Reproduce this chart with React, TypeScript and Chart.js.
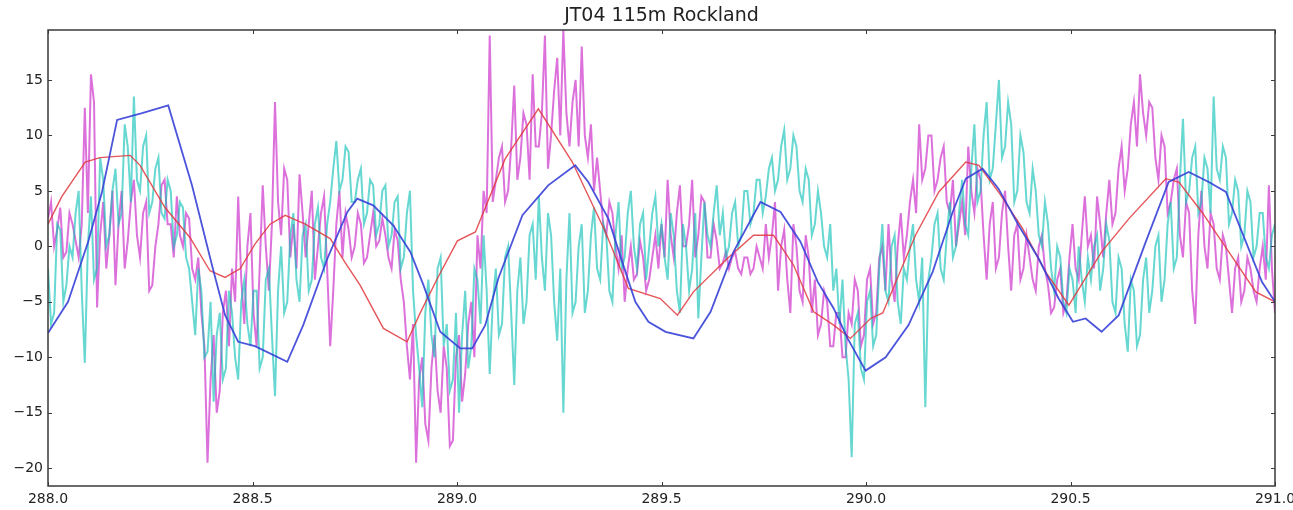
import React, { useEffect, useRef } from "react";
import { Chart, registerables } from "chart.js";

Chart.register(...registerables);

const TITLE = "JT04 115m Rockland";
const X_MIN = 288.0;
const X_MAX = 291.0;
const Y_MIN = -21.6;
const Y_MAX = 19.5;
const X_TICKS = [288.0, 288.5, 289.0, 289.5, 290.0, 290.5, 291.0];
const Y_TICKS = [-20, -15, -10, -5, 0, 5, 10, 15];

// noisy series: sampled every SAMPLE_STEP starting at SAMPLE_START
const SAMPLE_START = 288.0;
const SAMPLE_STEP = 0.0075;

const MAGENTA = [
  2.5, 4, 0, 1.5, 3.5, -1, -0.5, 3, 2, 0.5, -1, 2, 12.5, 3, 15.5, 13, -5.5, 1, 4, -2,
  1, 5, -3.5, 2, 5, -2, 0.5, 4, 6, 1, -1, 3, 4, -4, -3.5, 0, 2, 5.5, 6, 2,
  2, -1, 4.5, 1, 0, 3, 2.5, -2, -3, -1, -6, -9, -19.5, -12, -8, -15, -13, -6, -4, -9,
  -2, -5, 4.5, -3, -7, 0, 3, -6, -9, -2, 5.5, 0, -4, 2, 13, 4, 1, 7, 6, -1,
  2, -2, 6.5, 3, -1, 2, 5, -3, 0, 3, 4.5, -2, -9, -4, 2, 5, -1, 3, 1.5, -1,
  0, 3, 2, -1.5, -1, 1, 3, 0, 0.5, 2.5, 1, -1, -2, 1.5, 0.5, -3, -5, -9, -12, -7,
  -19.5, -12, -10, -16, -17.5, -11, -8, -13, -15, -9, -11, -18, -17.5, -10, -8, -14, -11.5, -7, -5, -10,
  1, -2, 5, 3, 19, 4, 6, 8, 9, 4, 5, 9, 14.5, 6, 8, 12, 11, 6, 15.5, 9,
  9, 12, 19, 7, 10, 14, 17, 10, 19.5, 12, 9, 13, 15, 9, 18, 10, 8, 11, 5, 8,
  5, 2, 1, 4, 3, 0, -2, 1, -5, -2, 0, -3, -2.5, 0.5, -1, -4, -3, -1, 1, -2,
  2, -1, 6, 1, -1, 3, 5.5, 0, 0, 2, 6, -1, 1, 4.5, 4, -1, -1, 2, 0.5, -2,
  -1.5, -0.5, -2, -1, -0.5, -2, -2.5, -1, -1, -2.5, -2, 0, -1, -2, 2, -1, 1, 4, -4, 0,
  1.5, -3, -6, 2, 0, -4, -5, 1, -1, -6, -3, -8, -7, -4, -5, -9, -9, -6, -6, -10,
  -10, -6, -7, -3, -4, -9, -8, -3, -2, -7, -6, -1, 0, -4, 2, -3, -5, 0, 3, -1,
  1, 4, 6, 3, 11, 6, 7, 10, 10, 5, 6, 8, 9, 4, 3, 6, 0, 2, 4, 1,
  9, 5, 3, 7, 6, 1, -3, 2, 4, -2, -1, 3, 5, 0, -4, 1, 2, -3, -2, 1,
  -1, -3, -4, 0, 1, -2, -3.5, -6, -5.5, -3, -2, -6, -5, -1, 2, -2, -3, 1, 4.5, 0,
  1, -2, 4.5, 2, -1, 3, 6, 2, 3, 7, 9, 5, 7, 11, 13, 9, 15.5, 12, 10, 13,
  12.5, 8, 6, 10, 9, 3, 4, 6, 7, 1, -1, 4, 3, -4, -7, 1, 5, 0, -2, 3,
  2, -2, -3, 1, 0, -3, -6, -2, -1, -5, -4, -1, -2, -4, -5, -2, 0, -3, 5.5, -2, -6,
];

const CYAN = [
  -2, -7, -6, 2, 1.5, -5, -3.5, 0, -1, 3, 5, -4, -10.5, 0, 4.5, -3, -2, 8, 6, 0,
  1, 5, 7, 2, 3, 11, 9, 4, 13.5, 6, 5, 9, 10, 3, 4, 7, 8, 3, 2.5, 6,
  5, 0, 1, 4, 3.5, -1, -2, -5, -8, -2, -4, -10, -9.5, -5, -14, -8, -6, -12, -11, -4,
  -6, -10, -12, -5, -3, -7, -9, -4, -4, -11, -10, -3, -2, -8, -13.5, -4, 0, -6, -5, 1,
  3, -3, -5, 1, 2, -4, -3, 2, 3.5, -1, -2, 2, 4, 7, 9.5, 5, 6, 9, 8.5, 4,
  4, 6, 7, 2, 3, 6, 5.5, 1, 2, 5, 5.5, 0, 1, 4, 4.5, -2, -1, 3, 5, -4,
  -8, -11, -14.5, -6, -3, -8, -10, -2, -1, -9, -7, -13, -12, -6, -15, -8, -4, -11, -9, -2,
  -3, -7, 1, -4, -11.5, -5, -2, -8, -7, -1, 0, -6, -12.5, -4, -1, -7, -5, 1, 2, -3,
  4.5, -1, -4, 3, 1, -5, -8.5, -2, -15, -3, 3, -6, -5, 0, 2, -6, -4, 1, 3.5, -2,
  -3, 2, 1, -4, -5, 1, 4, -2, -1, 3, 5, 0, -2, 2, 3, -3, 0, 3, 4.5, 0,
  2, -1, -3, 3, 1, -4, -6, 2, 0, -4, -2, 3, -6.5, -1, 4, 1, 0, 3, 5.5, 1,
  3, -1, 0, 3, 4, 0, 1, 5, 5, 2, 3, 6, 6, 3, 4.5, 7, 8, 5, 6, 9,
  10.5, 6, 7, 10, 9, 5, 4, 7, 6, 1, 2, 5, 3, 0, -1, 2, -4, -2, -7, -3,
  -9, -12, -19, -7, -6, -11, -12, -5, -4, -9, -8, -2, 2, -4, -5, 0, 1, -5, -7, -2,
  -3, 0, 2, -3, -5, -1, -14.5, -3, -1, 2, 3, -2, -3, 1, 4, -1, 0, 3, 6, 2,
  1, 7, 11, 4, 5, 10, 13, 6, 7, 11, 15, 8, 9, 13, 11, 4, 5, 10, 8.5, 4,
  3, 7, 5, 1, 0, 4, 2, -2, -4, 0, -1, -5, -6, -2, -3, -6, 0, -3, -5, -1,
  -3, 0, 1, -4, -2, 2, 0.5, -5, -6, -1, -2, -7, -9.5, -3, -4, -9, -8, -3, -1, -6,
  -4, 0, 1, -5, -3, 2, 4, -2, -1, 6, 11.5, 4, 5, 8, 9, 3, 4, 8, 7, 3,
  13.5, 7, 6, 9, 8, 2, 3, 6, 5, 0, 1, 5, 4, -1, 0, 3, 3, -1, -2, 1, 2,
];

const RED_X = [
  288.0, 288.034, 288.091, 288.127, 288.201, 288.225, 288.286, 288.347, 288.396, 288.433,
  288.47, 288.506, 288.543, 288.58, 288.629, 288.69, 288.727, 288.763, 288.82, 288.878,
  288.91, 288.952, 289.001, 289.045, 289.118, 289.199, 289.282, 289.363, 289.419, 289.497,
  289.539, 289.578, 289.661, 289.725, 289.774, 289.823, 289.872, 289.921, 289.962, 290.011,
  290.041, 290.121, 290.178, 290.244, 290.276, 290.324, 290.383, 290.439, 290.496, 290.576,
  290.643, 290.733, 290.765, 290.821, 290.887, 290.953, 291.0,
];
const RED_Y = [
  2.0, 4.5, 7.6, 8.0, 8.2, 7.3, 3.5, 0.8, -2.2, -2.8,
  -2.0, 0.2, 2.0, 2.8, 2.0, 0.7, -1.5, -3.5, -7.4, -8.6,
  -6.0, -2.9, 0.5, 1.3, 7.9, 12.4, 7.6, 1.3, -3.8, -4.7,
  -6.2, -4.1, -1.1, 1.0, 1.0, -1.7, -5.9, -7.1, -8.3, -6.5,
  -6.0, 1.0, 4.9, 7.6, 7.3, 4.9, 1.6, -2.3, -5.3, -0.5,
  2.5, 6.1, 5.8, 3.1, -0.5, -4.1, -5.0,
];

const BLUE_X = [
  288.0, 288.049, 288.098, 288.132, 288.169, 288.23, 288.294, 288.352, 288.401, 288.433,
  288.465, 288.506, 288.585, 288.624, 288.683, 288.732, 288.756, 288.795, 288.844, 288.886,
  288.918, 288.959, 289.008, 289.037, 289.069, 289.101, 289.16, 289.223, 289.289, 289.321,
  289.37, 289.404, 289.436, 289.468, 289.51, 289.578, 289.62, 289.676, 289.742, 289.791,
  289.84, 289.882, 289.921, 289.955, 289.999, 290.048, 290.104, 290.163, 290.212, 290.244,
  290.285, 290.324, 290.373, 290.422, 290.471, 290.506, 290.537, 290.576, 290.618, 290.684,
  290.74, 290.789, 290.838, 290.88, 290.919, 290.968, 291.0,
];
const BLUE_Y = [
  -7.8, -5.0, 0.4, 4.9, 11.4, 12.0, 12.7, 5.5, -1.7, -6.2,
  -8.6, -9.0, -10.4, -7.1, -1.1, 3.1, 4.3, 3.7, 1.9, -0.5,
  -3.5, -7.7, -9.2, -9.2, -7.1, -2.9, 2.8, 5.5, 7.3, 5.8,
  2.5, -1.4, -5.0, -6.8, -7.7, -8.3, -5.9, -0.5, 4.0, 3.1,
  0.4, -3.2, -5.6, -8.3, -11.2, -10.0, -7.1, -2.3, 3.1, 6.1,
  7.0, 5.2, 1.9, -1.1, -4.7, -6.8, -6.5, -7.7, -6.2, 0.4,
  5.8, 6.7, 5.8, 4.9, 1.3, -3.2, -5.0,
];

const FONT = "'DejaVu Sans', 'Liberation Sans', sans-serif";

const sampled = (vals: number[]) =>
  vals.map((y, i) => ({ x: SAMPLE_START + i * SAMPLE_STEP, y }));
const paired = (xs: number[], ys: number[]) => xs.map((x, i) => ({ x, y: ys[i] }));

const frameAndTicks = {
  id: "frameAndTicks",
  afterDatasetsDraw(chart: any) {
    const { ctx, chartArea: a, scales } = chart;
    ctx.save();
    ctx.strokeStyle = "#3a3a3a";
    ctx.lineWidth = 1;
    ctx.beginPath();
    for (const v of X_TICKS) {
      const px = Math.round(scales.x.getPixelForValue(v)) + 0.5;
      ctx.moveTo(px, a.bottom);
      ctx.lineTo(px, a.bottom - 4);
      ctx.moveTo(px, a.top);
      ctx.lineTo(px, a.top + 4);
    }
    for (const v of Y_TICKS) {
      const py = Math.round(scales.y.getPixelForValue(v)) + 0.5;
      ctx.moveTo(a.left, py);
      ctx.lineTo(a.left + 4, py);
      ctx.moveTo(a.right, py);
      ctx.lineTo(a.right - 4, py);
    }
    ctx.stroke();
    ctx.lineWidth = 1.5;
    ctx.strokeRect(a.left, a.top, a.right - a.left, a.bottom - a.top);
    ctx.restore();
  },
};

export default function App() {
  const ref = useRef<HTMLCanvasElement | null>(null);

  useEffect(() => {
    if (!ref.current) return;
    const chart = new Chart(ref.current, {
      type: "line",
      data: {
        datasets: [
          {
            label: "blue",
            data: paired(BLUE_X, BLUE_Y),
            borderColor: "rgba(55,65,215,0.9)",
            borderWidth: 1.8,
            pointRadius: 0,
            tension: 0,
          },
          {
            label: "red",
            data: paired(RED_X, RED_Y),
            borderColor: "rgba(225,55,60,0.85)",
            borderWidth: 1.4,
            pointRadius: 0,
            tension: 0,
          },
          {
            label: "cyan",
            data: sampled(CYAN),
            borderColor: "rgba(10,190,180,0.62)",
            borderWidth: 2,
            pointRadius: 0,
            tension: 0,
          },
          {
            label: "magenta",
            data: sampled(MAGENTA),
            borderColor: "rgba(195,10,195,0.58)",
            borderWidth: 2,
            pointRadius: 0,
            tension: 0,
          },
        ],
      },
      options: {
        responsive: false,
        animation: false,
        events: [],
        layout: { padding: { left: 0, right: 18, top: 0, bottom: 0 } },
        plugins: {
          legend: { display: false },
          tooltip: { enabled: false },
          title: {
            display: true,
            text: TITLE,
            fullSize: false,
            color: "#222",
            font: { family: FONT, size: 19, weight: "normal", lineHeight: 1.2 },
            padding: { top: 5, bottom: 2.2 },
          },
        },
        scales: {
          x: {
            type: "linear",
            min: X_MIN,
            max: X_MAX,
            afterBuildTicks: (s: any) => {
              s.ticks = X_TICKS.map((v) => ({ value: v }));
            },
            afterFit: (s: any) => {
              s.height = 24;
              s.paddingLeft = 0;
              s.paddingRight = 0;
            },
            grid: { display: false, drawTicks: false },
            border: { display: false },
            ticks: {
              autoSkip: false,
              maxRotation: 0,
              padding: 5,
              color: "#222",
              font: { family: FONT, size: 14 },
              callback: (v: any) => Number(v).toFixed(1),
            },
          },
          y: {
            type: "linear",
            min: Y_MIN,
            max: Y_MAX,
            afterBuildTicks: (s: any) => {
              s.ticks = Y_TICKS.map((v) => ({ value: v }));
            },
            afterFit: (s: any) => {
              s.width = 48;
              s.paddingTop = 0;
              s.paddingBottom = 0;
            },
            grid: { display: false, drawTicks: false },
            border: { display: false },
            ticks: {
              autoSkip: false,
              padding: 5,
              color: "#222",
              font: { family: FONT, size: 14 },
              callback: (v: any) => (Number(v) < 0 ? "\u2212" + Math.abs(Number(v)) : String(v)),
            },
          },
        },
      } as any,
      plugins: [frameAndTicks],
    });
    return () => chart.destroy();
  }, []);

  return (
    <canvas
      ref={ref}
      width={1293}
      height={510}
      style={{ position: "absolute", left: 0, top: 0, width: 1293, height: 510 }}
    />
  );
}
